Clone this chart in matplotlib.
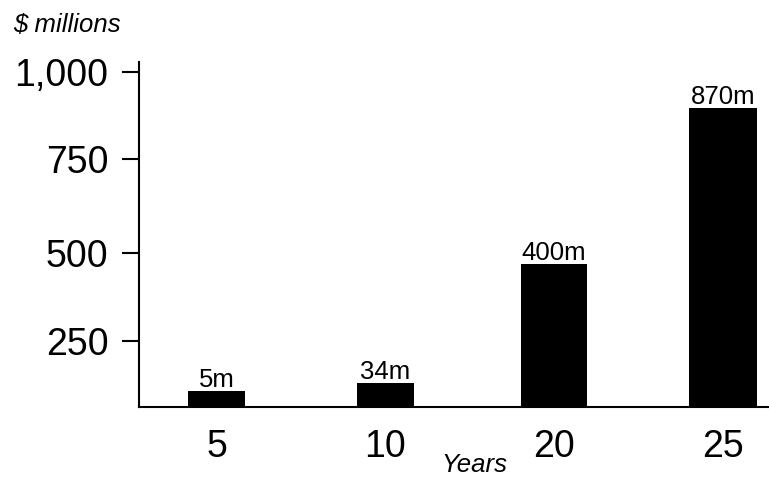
import matplotlib.pyplot as plt
import numpy as np

plt.rcParams['font.family'] = ['Liberation Sans', 'DejaVu Sans']

# data
years = ['5', '10', '20', '25']
value_m = [5, 34, 400, 870]
value_labels = ['5m', '34m', '400m', '870m']
y_ticks = [250, 500, 750, 1000]
y_tick_labels = ['250', '500', '750', '1,000']

# the value axis of this chart is stretched unevenly:
# value -> height (px) along the axis, linear between anchors
scale_values = [0, 5, 34, 250, 400, 500, 750, 870, 1000, 1100]
scale_heights = [0, 16, 24, 66, 143, 154, 248, 299, 335, 372]


def forward(v):
    return np.interp(v, scale_values, scale_heights)


def inverse(h):
    return np.interp(h, scale_heights, scale_values)


bar_widths = [0.34, 0.34, 0.39, 0.40]

fig = plt.figure(figsize=(7.69, 4.78), dpi=100)
ax = fig.add_axes([139 / 769, 71 / 478, 629 / 769, 345 / 478])

x = np.arange(len(years))
bars = ax.bar(x, value_m, width=bar_widths, color='black')

for rect, label in zip(bars, value_labels):
    ax.annotate(label, (rect.get_x() + rect.get_width() / 2, rect.get_height()),
                xytext=(0, 3), textcoords='offset points',
                ha='center', va='baseline', fontsize=18.5)

ax.set_yscale('function', functions=(forward, inverse))
ax.set_ylim(0, inverse(345))
ax.set_xlim(-0.459, 3.267)

ax.set_yticks(y_ticks, y_tick_labels)
ax.set_xticks(x, years)
ax.tick_params(axis='y', length=12, width=1.5, pad=10, labelsize=27)
ax.tick_params(axis='x', length=0, pad=16, labelsize=27)
ax.minorticks_off()

for side in ['top', 'right']:
    ax.spines[side].set_visible(False)
for side in ['left', 'bottom']:
    ax.spines[side].set_linewidth(1.5)

fig.text(13 / 769, 1 - 32 / 478, '$ millions', fontsize=18.5, style='italic',
         ha='left', va='baseline')
fig.text(474 / 769, 1 - 472 / 478, 'Years', fontsize=18.5, style='italic',
         ha='center', va='baseline')

plt.savefig('out.png', dpi=100)
